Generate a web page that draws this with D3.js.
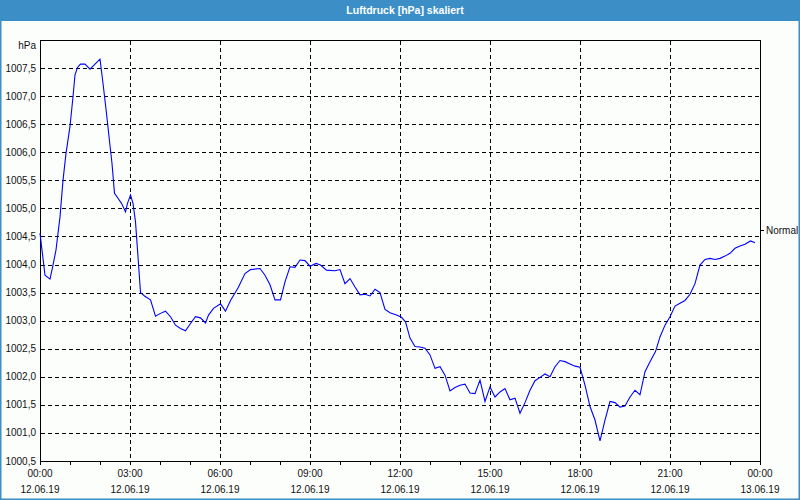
<!DOCTYPE html>
<html><head><meta charset="utf-8">
<script src="https://cdn.jsdelivr.net/npm/d3@7"></script>
<style>html,body{margin:0;padding:0;background:#fff;}svg{display:block;}</style>
</head><body>
<svg id="c" width="800" height="500"></svg>
<script>
const title = "Luftdruck [hPa] skaliert";
const unit = "hPa";
const refLabel = "Normal";
const refValue = 1004.615;
// minutes since 12.06.19 00:00
const minutes = [0,10,20,26,32,40,46,52,60,66,70,75,81,90,100,110,120,126,133,138,144,149,156,163,171,175,181,186,191,196,201,209,221,231,241,251,261,271,281,291,301,311,321,331,337,347,361,371,381,396,410,421,440,450,460,470,481,490,500,510,520,530,540,552,561,573,590,600,610,620,630,640,650,660,670,680,690,700,713,723,731,740,750,760,770,780,790,800,810,820,830,840,850,860,870,880,890,900,910,920,930,940,950,960,970,980,990,1000,1010,1020,1030,1040,1050,1060,1070,1080,1090,1100,1110,1120,1130,1140,1150,1160,1170,1180,1190,1200,1210,1220,1231,1240,1250,1260,1270,1280,1290,1300,1310,1320,1330,1340,1350,1360,1370,1380,1390,1400,1410,1421,1430];
const pressure = [1004.56,1003.81,1003.74,1003.99,1004.26,1004.85,1005.50,1005.98,1006.46,1006.99,1007.38,1007.51,1007.57,1007.57,1007.48,1007.57,1007.66,1007.23,1006.69,1006.28,1005.80,1005.27,1005.18,1005.09,1004.94,1005.09,1005.24,1005.09,1004.76,1004.14,1003.50,1003.44,1003.37,1003.08,1003.13,1003.17,1003.07,1002.92,1002.86,1002.82,1002.95,1003.07,1003.05,1002.96,1003.10,1003.22,1003.30,1003.17,1003.36,1003.58,1003.84,1003.91,1003.93,1003.81,1003.64,1003.37,1003.37,1003.69,1003.96,1003.95,1004.08,1004.07,1003.97,1004.02,1003.99,1003.90,1003.89,1003.91,1003.66,1003.75,1003.60,1003.46,1003.47,1003.44,1003.56,1003.50,1003.20,1003.14,1003.10,1003.06,1002.98,1002.69,1002.54,1002.53,1002.51,1002.39,1002.15,1002.18,1002.03,1001.75,1001.81,1001.85,1001.87,1001.71,1001.70,1001.94,1001.56,1001.82,1001.64,1001.73,1001.79,1001.59,1001.62,1001.35,1001.54,1001.76,1001.93,1001.99,1002.05,1002.00,1002.18,1002.29,1002.27,1002.23,1002.19,1002.17,1001.85,1001.47,1001.23,1000.86,1001.23,1001.56,1001.54,1001.46,1001.48,1001.64,1001.76,1001.68,1002.09,1002.27,1002.45,1002.71,1002.92,1003.07,1003.26,1003.31,1003.36,1003.47,1003.66,1003.99,1004.09,1004.11,1004.09,1004.11,1004.15,1004.20,1004.29,1004.33,1004.36,1004.42,1004.39];
const yTicks = [1000.5,1001.0,1001.5,1002.0,1002.5,1003.0,1003.5,1004.0,1004.5,1005.0,1005.5,1006.0,1006.5,1007.0,1007.5];
const xTickMinutes = [0,180,360,540,720,900,1080,1260,1440];
const xTickTimes = ["00:00","03:00","06:00","09:00","12:00","15:00","18:00","21:00","00:00"];
const xTickDates = ["12.06.19","12.06.19","12.06.19","12.06.19","12.06.19","12.06.19","12.06.19","12.06.19","13.06.19"];
const minorTickMinutes = d3.range(0, 1441, 60);

const svg = d3.select("#c");
const font = "'Liberation Sans', Arial, sans-serif";
const fs = "10px";
const L = 40, R = 760, T = 40, B = 461;
const x = d3.scaleLinear().domain([0, 1440]).range([L, R]);
const y = d3.scaleLinear().domain([1000.5, 1008.0]).range([B, T]);

svg.append("rect").attr("width",800).attr("height",500).attr("fill","#fcfefc");
// title bar
svg.append("rect").attr("x",0).attr("y",0).attr("width",800).attr("height",21).attr("fill","#3b8fc6");
svg.append("text").attr("x",405).attr("y",10).attr("text-anchor","middle").attr("dominant-baseline","central")
  .attr("fill","#fff").attr("font-family",font).attr("font-size","10.5px").attr("font-weight","bold").text(title);
// window border
svg.append("rect").attr("x",0.75).attr("y",20).attr("width",798.5).attr("height",479.25)
  .attr("fill","none").attr("stroke","#3b8fc6").attr("stroke-width",1.5);

const g = svg.append("g").attr("transform","translate(0.5,0.5)");
// grid
g.selectAll("line.hg").data(yTicks.filter(v=>v>1000.5)).join("line")
  .attr("x1",L).attr("x2",R).attr("y1",d=>Math.round(y(d))).attr("y2",d=>Math.round(y(d)))
  .attr("stroke","#000").attr("stroke-dasharray","4,3").attr("shape-rendering","crispEdges");
g.selectAll("line.vg").data(xTickMinutes.filter(v=>v>0 && v<1440)).join("line")
  .attr("y1",T).attr("y2",B).attr("x1",d=>Math.round(x(d))).attr("x2",d=>Math.round(x(d)))
  .attr("stroke","#000").attr("stroke-dasharray","4,3").attr("shape-rendering","crispEdges");
// minor ticks
g.selectAll("line.mt").data(minorTickMinutes).join("line")
  .attr("x1",d=>Math.round(x(d))).attr("x2",d=>Math.round(x(d))).attr("y1",B).attr("y2",B+3)
  .attr("stroke","#000").attr("shape-rendering","crispEdges");
// frame
g.append("rect").attr("x",L).attr("y",T).attr("width",R-L).attr("height",B-T)
  .attr("fill","none").attr("stroke","#000").attr("shape-rendering","crispEdges");

// line
const line = d3.line().x((d,i)=>x(minutes[i])).y(d=>y(d));
svg.append("path").datum(pressure).attr("d",line).attr("fill","none").attr("stroke","#0000ff").attr("stroke-width",1.1);

// y labels
const tc = "#111";
svg.selectAll("text.yl").data(yTicks).join("text")
  .attr("x",36).attr("y",d=>y(d)).attr("text-anchor","end").attr("dominant-baseline","central")
  .attr("font-family",font).attr("font-size",fs).attr("fill",tc)
  .text(d=>d3.format(".1f")(d).replace(".",","));
svg.append("text").attr("x",36).attr("y",45).attr("text-anchor","end").attr("dominant-baseline","central")
  .attr("font-family",font).attr("font-size",fs).attr("fill",tc).text(unit);
// x labels
svg.selectAll("text.xt").data(xTickMinutes).join("text")
  .attr("x",d=>x(d)).attr("y",473).attr("text-anchor","middle").attr("dominant-baseline","central")
  .attr("font-family",font).attr("font-size",fs).attr("fill",tc).text((d,i)=>xTickTimes[i]);
svg.selectAll("text.xd").data(xTickMinutes).join("text")
  .attr("x",d=>x(d)).attr("y",489).attr("text-anchor","middle").attr("dominant-baseline","central")
  .attr("font-family",font).attr("font-size",fs).attr("fill",tc).text((d,i)=>xTickDates[i]);
// reference marker on right
const ry = Math.round(y(refValue));
g.append("line").attr("x1",R).attr("x2",R+3).attr("y1",ry).attr("y2",ry).attr("stroke","#000").attr("shape-rendering","crispEdges");
svg.append("text").attr("x",766).attr("y",ry+0.5).attr("dominant-baseline","central")
  .attr("font-family",font).attr("font-size",fs).attr("fill",tc).text(refLabel);
</script>
</body></html>
